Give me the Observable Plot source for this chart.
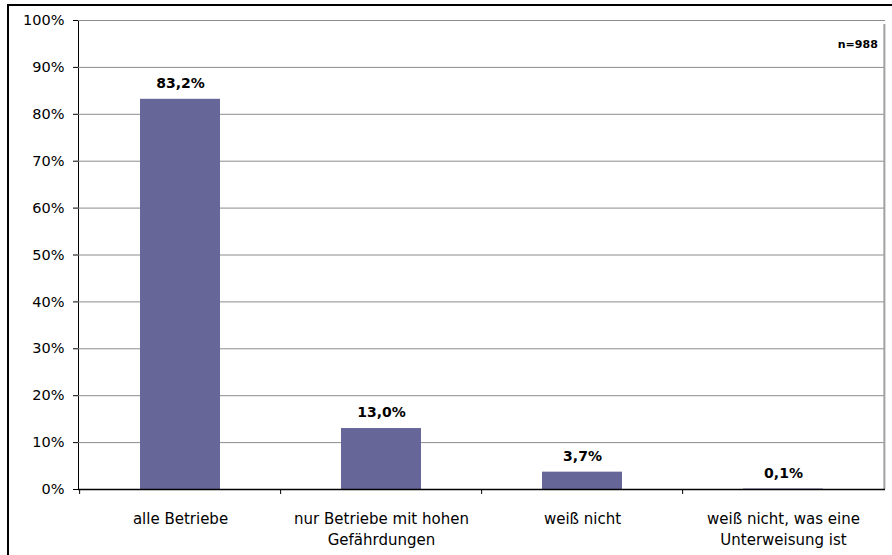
<!DOCTYPE html>
<html>
<head>
<meta charset="utf-8">
<script src="https://cdn.jsdelivr.net/npm/d3@7"></script>
<script src="https://cdn.jsdelivr.net/npm/@observablehq/plot@0.6"></script>
<style>
  html, body { margin: 0; padding: 0; background: #fff; overflow: hidden; }
  #wrap { position: relative; width: 892px; height: 555px; }
  #frame { position: absolute; left: 7px; top: 4px; width: 1000px; height: 1000px;
           border-left: 2px solid #000; border-top: 2px solid #000; pointer-events: none; }
  svg { display: block; }
</style>
</head>
<body>
<div id="wrap"><div id="chart"></div><div id="frame"></div></div>
<script>
const categories = ["alle Betriebe", "nur Betriebe mit hohen\nGefährdungen", "weiß nicht", "weiß nicht, was eine\nUnterweisung ist"];
const values = [83.2, 13.0, 3.7, 0.1];
const valueLabels = ["83,2%", "13,0%", "3,7%", "0,1%"];
const yTicks = [0, 10, 20, 30, 40, 50, 60, 70, 80, 90, 100];
const sampleNote = "n=988";

const data = categories.map((c, i) => ({cat: c, value: values[i], label: valueLabels[i]}));

const W = 892, H = 555;
const mL = 78, mR = 7, mT = 20, mB = 66;
const step = (W - mL - mR) / categories.length;
const font = "'DejaVu Sans', Arial, sans-serif";

const chart = Plot.plot({
  width: W,
  height: H,
  marginLeft: mL,
  marginRight: mR,
  marginTop: mT,
  marginBottom: mB,
  style: {fontFamily: font, fontSize: "14.5px", color: "#000", background: "#fff"},
  x: {domain: categories, paddingInner: 0.6, paddingOuter: 0.3, axis: null},
  y: {domain: [0, 100], ticks: yTicks, tickFormat: d => d + "%", tickSize: 5, tickPadding: 9, label: null, line: true},
  marks: [
    Plot.ruleY(yTicks.filter(d => d > 0), {y: d => d, stroke: "#8c8c8c", strokeWidth: 1}),
    Plot.ruleX([categories[categories.length - 1]], {x: d => d, dx: step / 2, y1: 0, y2: 100, insetBottom: -4, stroke: "#a0a0a0", strokeWidth: 2}),
    Plot.barY(data, {x: "cat", y: "value", fill: "#666699"}),
    Plot.ruleY([0], {stroke: "#000", strokeWidth: 1.5}),
    Plot.ruleX(categories, {x: d => d, dx: -step / 2, y1: 0, y2: 0, insetBottom: -5, stroke: "#000", strokeWidth: 1}),
    Plot.text(data, {x: "cat", y: "value", text: "label", lineAnchor: "bottom", dy: -11.5, fontWeight: "bold", fontSize: 14}),
    Plot.text(data, {x: "cat", y: 0, text: "cat", lineAnchor: "top", dy: 20.3, lineHeight: 1.37, fontSize: 15}),
    Plot.text([sampleNote], {frameAnchor: "top-right", text: d => d, textAnchor: "end", lineAnchor: "bottom", dx: -7.7, dy: 27.3, fontWeight: "bold", fontSize: 11})
  ]
});
document.getElementById("chart").appendChild(chart);
</script>
</body>
</html>
